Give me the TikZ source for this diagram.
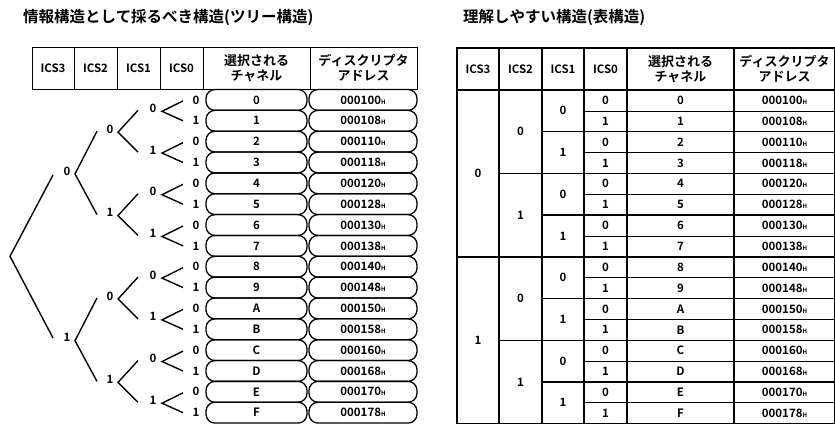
\documentclass[tikz,border=0pt]{standalone}
\usepackage{fontspec}
\setmainfont{Noto Sans CJK JP}[BoldFont={Noto Sans CJK JP Bold}]
\newcommand\hx[1]{#1{\fontsize{6}{6}\selectfont H}}
\begin{document}
\begin{tikzpicture}[x=1pt,y=-1pt,
  font=\bfseries\fontsize{11.5}{12}\selectfont,
  thinln/.style={line width=0.6pt},
  thickln/.style={line width=1.4pt},
  treeln/.style={line width=1.4pt},
  lbl/.style={inner sep=0pt},
  hdr/.style={inner sep=0pt, align=center, font=\bfseries\fontsize{13}{15}\selectfont},
  chbox/.style={draw, line width=1.3pt, rounded corners=9pt, minimum width=101pt, minimum height=20.85pt, inner sep=0pt},
  adbox/.style={draw, line width=1.3pt, rounded corners=9pt, minimum width=108pt, minimum height=20.85pt, inner sep=0pt},
  ttl/.style={anchor=west, inner sep=0pt, font=\bfseries\fontsize{15.5}{16}\selectfont}]
\useasboundingbox (0,0) rectangle (835,425);

% titles
\node[ttl] (t1) at (23,17) {情報構造として採るべき構造(ツリー構造)};
\node[ttl] (t2) at (463,17) {理解しやすい構造(表構造)};

% ---------- left: tree structure ----------
\draw[thinln] (32,47) rectangle (417,89);
\foreach \x in {74,117,160,203,310} \draw[thinln] (\x,47) -- (\x,89);
\node[lbl] (lh3) at (53,68) {ICS3};
\node[lbl] (lh2) at (95.5,68) {ICS2};
\node[lbl] (lh1) at (138.5,68) {ICS1};
\node[lbl] (lh0) at (181.5,68) {ICS0};
\node[hdr] (lhc) at (256.5,68) {選択される\\チャネル};
\node[hdr] (lha) at (363.5,68) {ディスクリプタ\\アドレス};

\foreach \i/\ch/\ad in {0/0/000100,1/1/000108,2/2/000110,3/3/000118,4/4/000120,5/5/000128,6/6/000130,7/7/000138,8/8/000140,9/9/000148,10/A/000150,11/B/000158,12/C/000160,13/D/000168,14/E/000170,15/F/000178}{
  \pgfmathsetmacro\yc{99.92+20.85*\i}
  \pgfmathtruncatemacro\bit{mod(\i,2)}
  \node[chbox] (lc\i) at (256.5,\yc) {\ch};
  \node[adbox] (la\i) at (363,\yc) {\hx{\ad}};
  \node[lbl] (b0\i) at (196,\yc) {\bit};
}

% ICS1 level
\foreach \j in {0,...,7}{
  \pgfmathsetmacro\m{99.92+20.85*(2*\j+0.5)}
  \pgfmathsetmacro\ua{99.92+20.85*(2*\j)+1}
  \pgfmathsetmacro\ub{99.92+20.85*(2*\j+1)}
  \pgfmathtruncatemacro\bit{mod(\j,2)}
  \node[lbl] (b1\j) at (153,\m-2) {\bit};
  \coordinate (a1\j) at (162,\m+1);
  \coordinate (u1\j) at (183,\ua);
  \coordinate (d1\j) at (183,\ub);
  \draw[treeln] (u1\j) -- (a1\j) -- (d1\j);
}
% ICS2 level
\foreach \k in {0,...,3}{
  \pgfmathsetmacro\m{99.92+20.85*(4*\k+1.5)}
  \pgfmathsetmacro\ua{99.92+20.85*(4*\k+0.5)}
  \pgfmathsetmacro\ub{99.92+20.85*(4*\k+2.5)}
  \pgfmathtruncatemacro\bit{mod(\k,2)}
  \node[lbl] (b2\k) at (110,\m-2) {\bit};
  \coordinate (a2\k) at (118,\m+1);
  \coordinate (u2\k) at (138,\ua);
  \coordinate (d2\k) at (138,\ub);
  \draw[treeln] (u2\k) -- (a2\k) -- (d2\k);
}
% ICS3 level
\foreach \l in {0,1}{
  \pgfmathsetmacro\m{99.92+20.85*(8*\l+3.5)}
  \pgfmathsetmacro\ua{99.92+20.85*(8*\l+1.5)}
  \pgfmathsetmacro\ub{99.92+20.85*(8*\l+5.5)}
  \node[lbl] (b3\l) at (67,\m-2) {\l};
  \coordinate (a3\l) at (75,\m+1);
  \coordinate (u3\l) at (97,\ua);
  \coordinate (d3\l) at (97,\ub);
  \draw[treeln] (u3\l) -- (a3\l) -- (d3\l);
}
% root
\coordinate (root) at (10,256.3);
\coordinate (ru) at (53,175);
\coordinate (rd) at (53,338);
\draw[treeln] (ru) -- (root) -- (rd);

% ---------- right: table structure ----------
\draw[thickln] (457,48) rectangle (834.3,423.6);
\draw[thickln] (457,90) -- (834.3,90);
\foreach \x in {499,542,584,627,734} \draw[thickln] (\x,48) -- (\x,423.6);
\foreach \i in {1,...,15}{
  \pgfmathsetmacro\yb{90+20.85*\i}
  \pgfmathtruncatemacro\mA{mod(\i,8)}
  \pgfmathtruncatemacro\mB{mod(\i,4)}
  \pgfmathtruncatemacro\mC{mod(\i,2)}
  \ifnum\mA=0 \draw[thickln] (457,\yb) -- (834.3,\yb);
  \else\ifnum\mB=0 \draw[thickln] (499,\yb) -- (834.3,\yb);
  \else\ifnum\mC=0 \draw[thickln] (542,\yb) -- (834.3,\yb);
  \else \draw[thinln] (584,\yb) -- (834.3,\yb);
  \fi\fi\fi
}
\node[lbl] (rh3) at (478,69) {ICS3};
\node[lbl] (rh2) at (520.5,69) {ICS2};
\node[lbl] (rh1) at (563,69) {ICS1};
\node[lbl] (rh0) at (605.5,69) {ICS0};
\node[hdr] (rhc) at (680.5,69) {選択される\\チャネル};
\node[hdr] (rha) at (784.5,69) {ディスクリプタ\\アドレス};

\foreach \i/\ch/\ad in {0/0/000100,1/1/000108,2/2/000110,3/3/000118,4/4/000120,5/5/000128,6/6/000130,7/7/000138,8/8/000140,9/9/000148,10/A/000150,11/B/000158,12/C/000160,13/D/000168,14/E/000170,15/F/000178}{
  \pgfmathsetmacro\yc{90+20.85*(\i+0.5)}
  \pgfmathtruncatemacro\bit{mod(\i,2)}
  \node[lbl] (r0\i) at (605.5,\yc) {\bit};
  \node[lbl] (rc\i) at (680.5,\yc) {\ch};
  \node[lbl] (ra\i) at (784.5,\yc) {\hx{\ad}};
}
\foreach \j in {0,...,7}{
  \pgfmathsetmacro\yc{90+20.85*(2*\j+1)}
  \pgfmathtruncatemacro\bit{mod(\j,2)}
  \node[lbl] (r1\j) at (563,\yc) {\bit};
}
\foreach \k in {0,...,3}{
  \pgfmathsetmacro\yc{90+20.85*(4*\k+2)}
  \pgfmathtruncatemacro\bit{mod(\k,2)}
  \node[lbl] (r2\k) at (520.5,\yc) {\bit};
}
\foreach \l in {0,1}{
  \pgfmathsetmacro\yc{90+20.85*(8*\l+4)}
  \node[lbl] (r3\l) at (478,\yc) {\l};
}
\end{tikzpicture}
\end{document}
